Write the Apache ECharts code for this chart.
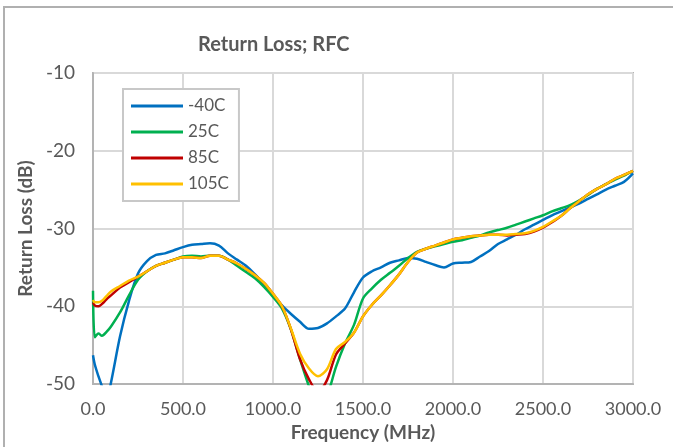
<!DOCTYPE html>
<html><head><meta charset="utf-8">
<script src="https://cdn.jsdelivr.net/npm/echarts@6/dist/echarts.min.js"></script>
<style>html,body{margin:0;padding:0;background:#fff}#c{width:673px;height:447px}</style>
</head><body><div id="c"></div>
<script>
const freq = [0,10,30,50,75,100,150,200,250,300,350,400,450,500,550,600,650,700,750,800,850,900,950,1000,1050,1100,1150,1200,1250,1300,1350,1400,1450,1500,1550,1600,1650,1700,1750,1800,1850,1900,1950,2000,2050,2100,2150,2200,2250,2300,2350,2400,2450,2500,2550,2600,2650,2700,2750,2800,2850,2900,2950,3000];
const m40C = [-46.3,-47.5,-49.0,-50.3,-52.0,-49.8,-43.9,-39.3,-35.8,-34.2,-33.4,-33.2,-32.8,-32.4,-32.1,-32.0,-31.9,-32.2,-33.2,-34.0,-34.8,-35.9,-37.2,-38.6,-39.9,-41.0,-42.0,-42.9,-42.8,-42.2,-41.3,-40.3,-38.2,-36.3,-35.5,-35.0,-34.4,-34.1,-33.8,-33.9,-34.3,-34.7,-35.0,-34.5,-34.4,-34.3,-33.6,-32.9,-32.0,-31.4,-30.8,-30.1,-29.5,-28.9,-28.3,-27.8,-27.3,-26.8,-26.2,-25.6,-25.0,-24.5,-24.0,-22.9];
const p25C = [-38.0,-44.0,-43.5,-43.8,-43.3,-42.6,-40.8,-38.6,-36.6,-35.5,-34.8,-34.4,-34.0,-33.6,-33.5,-33.6,-33.5,-33.5,-34.0,-34.8,-35.6,-36.4,-37.5,-38.8,-40.3,-43.0,-46.8,-50.3,-53.0,-51.5,-47.8,-44.8,-42.4,-39.0,-37.7,-36.6,-35.7,-34.8,-33.8,-33.0,-32.6,-32.3,-32.0,-31.7,-31.5,-31.2,-30.9,-30.5,-30.2,-29.9,-29.5,-29.1,-28.7,-28.3,-27.8,-27.4,-27.0,-26.4,-25.7,-24.9,-24.3,-23.7,-23.2,-22.6];
const p85C = [-39.5,-39.9,-40.0,-39.7,-39.1,-38.6,-37.6,-36.9,-36.2,-35.5,-34.8,-34.4,-34.0,-33.7,-33.7,-33.8,-33.5,-33.5,-34.0,-34.5,-35.2,-36.0,-37.0,-38.4,-40.0,-43.0,-46.8,-49.4,-51.0,-49.5,-46.2,-44.8,-43.4,-41.3,-39.8,-38.6,-37.3,-35.9,-34.3,-33.1,-32.6,-32.2,-31.8,-31.4,-31.2,-31.0,-30.9,-30.8,-30.8,-30.9,-30.8,-30.7,-30.4,-29.9,-29.2,-28.4,-27.4,-26.5,-25.6,-24.9,-24.3,-23.6,-23.1,-22.6];
const p105C = [-39.2,-39.5,-39.5,-39.3,-38.7,-38.1,-37.4,-36.7,-36.2,-35.5,-34.8,-34.4,-34.0,-33.7,-33.7,-33.8,-33.5,-33.5,-34.0,-34.5,-35.2,-36.0,-37.0,-38.4,-40.0,-42.9,-46.1,-48.0,-49.0,-48.1,-45.5,-44.6,-43.4,-41.3,-39.8,-38.6,-37.3,-35.9,-34.3,-33.1,-32.6,-32.2,-31.8,-31.4,-31.2,-31.0,-30.9,-30.8,-30.8,-30.8,-30.7,-30.6,-30.3,-29.8,-29.1,-28.4,-27.4,-26.5,-25.6,-24.9,-24.3,-23.6,-23.1,-22.6];
const seriesNames = ['-40C','25C','85C','105C'];
const seriesColors = ['#0070C0','#00B050','#C00000','#FFC000'];
const yTicks = [-50,-40,-30,-20,-10];
const xTicks = [0,500,1000,1500,2000,2500,3000];

const allData = [m40C,p25C,p85C,p105C];
const font = 'Lato, "Liberation Sans", sans-serif';
const chart = echarts.init(document.getElementById('c'), null, {renderer:'canvas'});
chart.setOption({
  animation:false,
  backgroundColor:'#fff',
  graphic:[{type:'rect',shape:{x:4,y:7,width:720,height:520},style:{fill:'none',stroke:'#b0b0b0',lineWidth:2},silent:true,z:-10}],
  title:{text:'Return Loss; RFC',left:193,top:30,textStyle:{fontFamily:font,fontSize:20,fontWeight:'bold',color:'#595959'}},
  legend:{orient:'vertical',left:123,top:89,padding:[8,10,8,8],itemWidth:52,itemHeight:3,itemGap:8,icon:'rect',
    backgroundColor:'#fff',borderColor:'#c8c8c8',borderWidth:2,
    textStyle:{fontFamily:font,fontSize:17,color:'#595959',lineHeight:18},
    data:seriesNames},
  grid:{left:93,right:40,top:73,bottom:63,show:true,borderColor:'#b3b3b3',borderWidth:2},
  xAxis:{type:'value',min:0,max:3000,interval:500,
    name:'Frequency (MHz)',nameLocation:'middle',nameGap:38,
    nameTextStyle:{fontFamily:font,fontSize:19,fontWeight:'bold',color:'#595959'},
    axisLine:{show:true,lineStyle:{color:'#b3b3b3',width:2}},axisTick:{show:false},
    axisLabel:{fontFamily:font,fontSize:18,color:'#595959',margin:16,formatter:v=>v.toFixed(1)},
    splitLine:{show:true,lineStyle:{color:'#d9d9d9',width:2}}},
  yAxis:{type:'value',min:-50,max:-10,interval:10,
    name:'Return Loss (dB)',nameLocation:'middle',nameGap:46,nameRotate:90,
    nameTextStyle:{fontFamily:font,fontSize:19,fontWeight:'bold',color:'#595959'},
    axisLine:{show:true,lineStyle:{color:'#b3b3b3',width:2}},axisTick:{show:false},
    axisLabel:{fontFamily:font,fontSize:19,color:'#595959',margin:18},
    splitLine:{show:true,lineStyle:{color:'#d9d9d9',width:2}}},
  series:seriesNames.map((n,i)=>({
    name:n,type:'line',showSymbol:false,symbol:'none',smooth:0.3,clip:true,
    color:seriesColors[i],lineStyle:{color:seriesColors[i],width:2.5},
    data:freq.map((f,j)=>[f,allData[i][j]])
  }))
});
</script></body></html>
